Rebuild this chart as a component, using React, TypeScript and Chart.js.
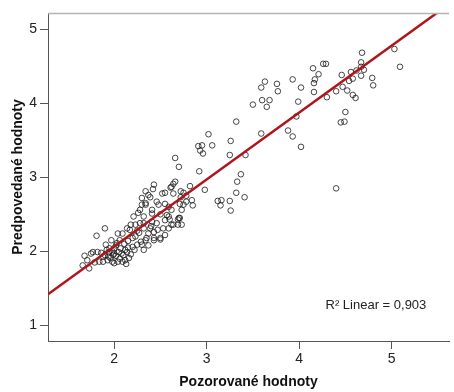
import { useEffect, useRef } from "react";
import { Chart, registerables } from "chart.js";

Chart.register(...registerables);

const observed = [
  4.68, 5.03, 5.09, 4.26, 4.29, 4.15, 4.21, 4.17, 4.16, 4.16, 4.02, 3.99, 4.30, 4.40, 4.46, 4.47, 4.52, 4.54, 4.56, 4.58,
  4.58, 4.61, 4.62, 4.67, 4.67, 4.70, 4.67, 4.79, 4.80, 4.50, 4.45, 4.49, 4.02, 4.40,
  3.63, 3.59, 3.76, 3.77, 3.93, 3.60, 3.68, 3.65, 3.50, 3.32, 3.59, 3.88, 3.93, 3.02, 2.91, 2.95, 3.06, 2.93, 2.96, 3.26,
  3.25, 3.42, 2.66, 2.70, 2.92, 3.37, 3.33, 2.82, 2.98, 3.32, 3.41, 2.66, 2.64, 3.97,
  2.43, 2.62, 2.42, 2.34, 2.55, 2.72, 2.75, 2.61, 2.39, 2.72, 2.78, 2.84, 2.78, 2.46, 2.48, 2.34, 2.28, 2.55, 2.59, 2.62,
  2.71, 2.73, 2.85, 3.12, 3.16, 3.15, 3.25, 3.26, 2.41, 2.50, 2.70, 2.59, 2.32,
  2.69, 2.73, 2.60, 2.62, 2.53, 2.47, 2.43, 2.37, 2.50, 2.43, 2.34, 2.30, 2.57, 2.41, 2.30, 2.37, 2.52, 2.64, 2.32, 2.41,
  2.46, 2.39,
  1.90, 1.81, 1.68, 1.66, 1.77, 1.71, 2.30, 2.34, 2.26, 2.21, 2.18, 2.23, 2.14, 2.09, 2.04, 2.28, 2.32, 2.23, 2.25, 2.20,
  2.15,
  1.73, 1.79, 1.75, 1.82, 1.88, 1.84,
  1.91, 1.94, 1.96, 1.98, 1.93, 1.97, 2.00, 2.02, 2.04, 2.00, 1.99, 1.95, 1.90, 1.88, 2.03, 2.05,
  2.07, 2.10, 2.12, 2.14, 2.11, 2.16, 2.09, 2.13, 2.17, 2.20, 2.27, 2.29, 2.35, 2.37, 2.43, 2.22, 2.32,
  2.50, 2.55, 2.59, 2.64, 2.69, 2.71, 2.75,
  1.98, 2.02, 1.94, 2.06, 2.08, 2.12, 1.92, 2.00, 2.18, 2.15, 1.86, 2.06, 2.25, 2.40, 2.55,
];
const predicted = [
  4.68, 4.73, 4.49, 4.53, 4.53, 4.47, 4.39, 4.32, 4.27, 4.15, 4.21, 4.02, 4.08, 4.16, 4.38, 4.22, 4.17, 4.30, 4.42, 4.33,
  4.11, 4.07, 4.44, 4.55, 4.49, 4.45, 4.37, 4.34, 4.24, 3.88, 3.74, 3.75, 3.41, 2.85,
  4.29, 4.21, 4.26, 4.16, 4.32, 4.04, 4.04, 3.95, 3.98, 3.75, 3.59, 3.63, 3.55, 3.58, 3.42, 3.43, 3.43, 3.36, 3.32, 3.49,
  3.30, 3.30, 3.26, 3.14, 3.08, 3.04, 2.94, 2.88, 2.83, 2.79, 2.73, 2.94, 2.91, 3.82,
  2.90, 2.87, 2.84, 2.81, 2.79, 2.81, 2.79, 2.86, 2.73, 2.73, 2.75, 2.69, 2.67, 2.67, 2.63, 2.63, 2.56, 2.64, 2.60, 2.56,
  2.64, 2.56, 2.62, 2.68, 2.69, 2.62, 2.68, 2.55, 2.51, 2.50, 2.45, 2.47, 2.47,
  2.43, 2.36, 2.43, 2.36, 2.31, 2.29, 2.26, 2.24, 2.18, 2.18, 2.15, 2.09, 2.49, 2.56, 2.63, 2.76, 2.78, 2.78, 2.38, 2.40,
  2.38, 2.31,
  2.31, 2.21, 1.94, 1.81, 1.99, 1.88, 2.72, 2.65, 2.52, 2.47, 2.36, 2.36, 2.31, 2.24, 2.24, 2.38, 2.31, 2.20, 2.09, 2.06,
  2.14,
  1.77, 1.85, 1.97, 1.99, 1.93, 1.86,
  2.09, 1.99, 1.91, 1.86, 1.88, 2.15, 2.04, 1.94, 1.86, 1.84, 1.95, 2.04, 1.95, 1.86, 2.11, 1.99,
  2.04, 1.95, 1.88, 1.99, 2.10, 1.91, 1.86, 1.83, 2.29, 2.18, 2.25, 2.13, 2.18, 2.08, 2.15, 2.02, 2.02,
  2.16, 2.22, 2.31, 2.36, 2.36, 2.45, 2.63,
  2.00, 2.08, 1.93, 1.90, 1.97, 2.02, 2.02, 1.97, 1.96, 2.05, 1.98, 2.15, 2.28, 2.34, 2.42,
];

const xTicks = [2, 3, 4, 5];
const yTicks = [1, 2, 3, 4, 5];
const xMin = 1.285;
const xMax = 5.62;
const yMin = 0.79;
const yMax = 5.216;

// Linear fit line
const fitIntercept = 0.26;
const fitSlope = 0.903;
const fitLabel = "R² Linear = 0,903";
const fitLabelAt = { x: 4.83, y: 1.27 };

const xTitle = "Pozorované hodnoty";
const yTitle = "Predpovedané hodnoty";

const FONT = '"Liberation Sans", Arial, Helvetica, sans-serif';

export default function App() {
  const ref = useRef<HTMLCanvasElement | null>(null);

  useEffect(() => {
    document.body.style.margin = "0";
    const canvas = ref.current;
    if (!canvas) return;

    const points = observed.map((x, i) => ({ x, y: predicted[i] }));
    const fitLine = [xMin, xMax].map((x) => ({ x, y: fitIntercept + fitSlope * x }));

    const extras = {
      id: "extras",
      afterDraw(chart: any) {
        const { ctx, chartArea, scales } = chart;
        ctx.save();
        ctx.strokeStyle = "#b4b4b4";
        ctx.lineWidth = 1.5;
        ctx.beginPath();
        ctx.moveTo(chartArea.left, chartArea.top + 0.5);
        ctx.lineTo(chartArea.right, chartArea.top + 0.5);
        ctx.stroke();
        ctx.font = `13px ${FONT}`;
        ctx.fillStyle = "#222";
        ctx.textAlign = "center";
        ctx.textBaseline = "middle";
        ctx.fillText(
          fitLabel,
          scales.x.getPixelForValue(fitLabelAt.x),
          scales.y.getPixelForValue(fitLabelAt.y)
        );
        ctx.restore();
      },
    };

    const chart = new Chart(canvas, {
      type: "scatter",
      data: {
        datasets: [
          {
            data: fitLine,
            showLine: true,
            borderColor: "#b0141c",
            borderWidth: 2.5,
            pointRadius: 0,
            order: 0,
          },
          {
            data: points,
            pointRadius: 2.8,
            pointBorderWidth: 1,
            pointBorderColor: "rgba(25,25,25,0.8)",
            pointBackgroundColor: "rgba(0,0,0,0)",
            order: 1,
          },
        ],
      },
      options: {
        animation: false,
        responsive: false,
        devicePixelRatio: 1,
        layout: { padding: { top: 13, right: 0, left: 0, bottom: 0 } },
        plugins: { legend: { display: false }, tooltip: { enabled: false } },
        scales: {
          x: {
            type: "linear",
            min: xMin,
            max: xMax,
            afterBuildTicks: (s: any) => {
              s.ticks = xTicks.map((v) => ({ value: v }));
            },
            afterFit: (s: any) => {
              s.height = 51;
            },
            grid: { drawOnChartArea: false, drawTicks: true, tickLength: 8, color: "#555", lineWidth: 1 },
            border: { display: true, color: "#555", width: 1 },
            ticks: { font: { family: FONT, size: 14 }, color: "#222", padding: 2, maxRotation: 0 },
            title: {
              display: true,
              text: xTitle,
              font: { family: FONT, size: 14, weight: "bold" },
              color: "#111",
              padding: { top: 0, bottom: 1 },
            },
          },
          y: {
            type: "linear",
            min: yMin,
            max: yMax,
            afterBuildTicks: (s: any) => {
              s.ticks = yTicks.map((v) => ({ value: v }));
            },
            afterFit: (s: any) => {
              s.width = 48;
            },
            grid: { drawOnChartArea: false, drawTicks: true, tickLength: 8, color: "#555", lineWidth: 1 },
            border: { display: true, color: "#555", width: 1 },
            ticks: { font: { family: FONT, size: 14 }, color: "#222", padding: 3 },
            title: {
              display: true,
              text: yTitle,
              font: { family: FONT, size: 14, weight: "bold" },
              color: "#111",
              padding: { top: 10, bottom: 0 },
            },
          },
        },
      },
      plugins: [extras],
    } as any);

    return () => chart.destroy();
  }, []);

  return (
    <div style={{ position: "fixed", left: 0, top: 0, width: 454, height: 392 }}>
      <canvas ref={ref} width={454} height={392} style={{ display: "block" }} />
    </div>
  );
}
